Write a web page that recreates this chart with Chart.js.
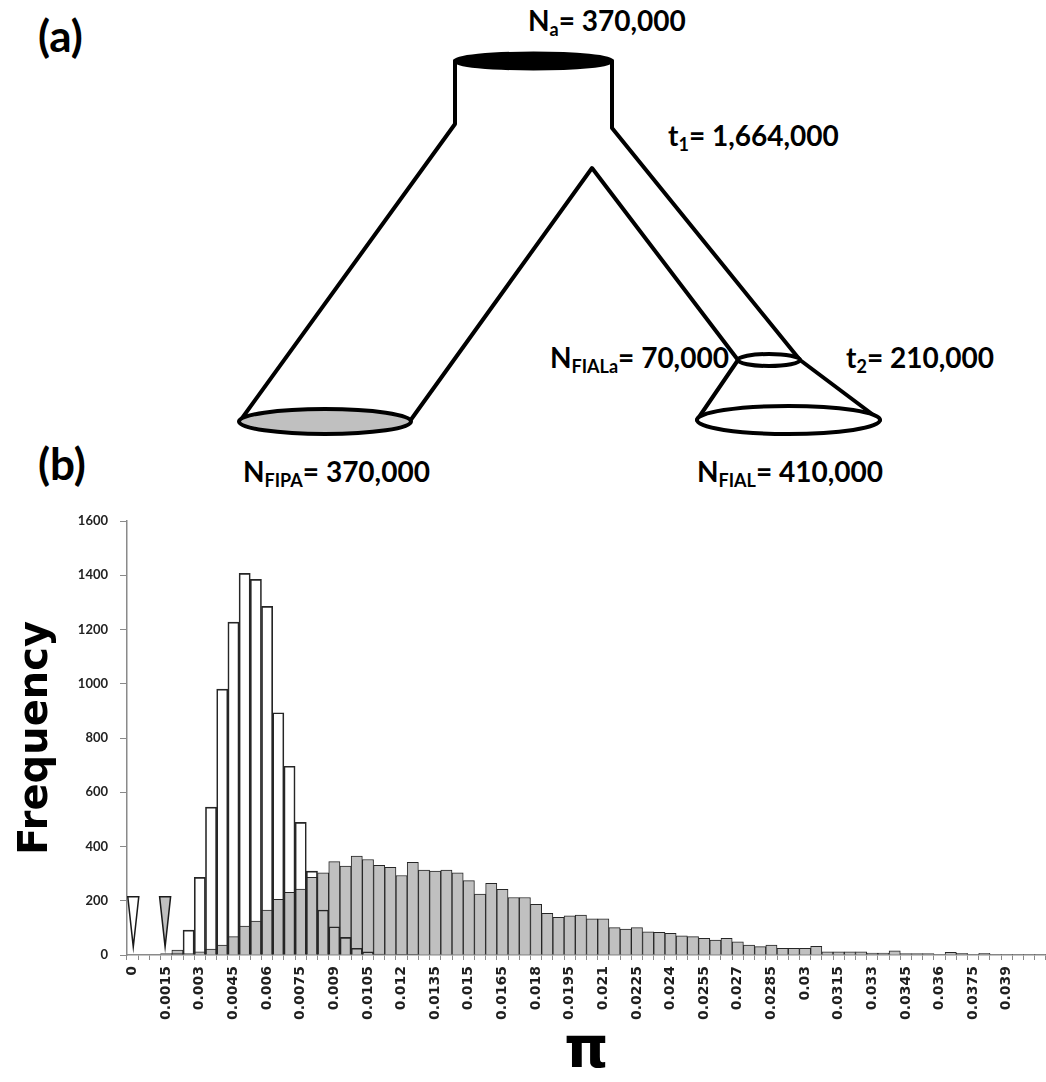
<!DOCTYPE html>
<html>
<head>
<meta charset="utf-8">
<script src="https://cdn.jsdelivr.net/npm/chart.js@4.4.1/dist/chart.umd.min.js"></script>
<style>
  html, body { margin: 0; padding: 0; background: #fff; }
  #wrap { position: relative; width: 1046px; height: 1082px; overflow: hidden; }
  #tree { position: absolute; left: 0; top: 0; }
  #hist { position: absolute; left: 0; top: 490px; width: 1046px; height: 592px; }
</style>
</head>
<body>
<div id="wrap">
  <!-- (a) population split model -->
  <svg id="tree" width="1046" height="490" viewBox="0 0 1046 490" xmlns="http://www.w3.org/2000/svg">
    <g fill="none" stroke="#000" stroke-width="4" stroke-linejoin="round" stroke-linecap="round">
      <path d="M455 61 L455 124 L240 421"/>
      <path d="M612 61 L612 128 L800 360"/>
      <path d="M410 421 L592 168 L738 360"/>
      <path d="M738 360 L697 420"/>
      <path d="M800 360 L880 420"/>
    </g>
    <ellipse cx="533.5" cy="61" rx="78.5" ry="7.5" fill="#000" stroke="#000" stroke-width="4"/>
    <ellipse cx="325" cy="421.5" rx="86" ry="12.5" fill="#c0c0c0" stroke="#000" stroke-width="4"/>
    <ellipse cx="769" cy="360" rx="31" ry="6" fill="#fff" stroke="#000" stroke-width="4"/>
    <ellipse cx="788.5" cy="420" rx="91.5" ry="14" fill="#fff" stroke="#000" stroke-width="4"/>
    <g font-family="Lato, 'Open Sans', sans-serif" font-weight="bold" fill="#000">
      <text x="38" y="52" font-size="44">(a)</text>
      <text x="38" y="480" font-size="44">(b)</text>
      <g font-size="28">
        <text x="528" y="31">N<tspan font-size="18" dy="5">a</tspan><tspan dy="-5">= 370,000</tspan></text>
        <text x="668" y="146">t<tspan font-size="18" dy="5">1</tspan><tspan dy="-5">= 1,664,000</tspan></text>
        <text x="550" y="368">N<tspan font-size="18" dy="5">FIALa</tspan><tspan dy="-5">= 70,000</tspan></text>
        <text x="846" y="368">t<tspan font-size="18" dy="5">2</tspan><tspan dy="-5">= 210,000</tspan></text>
        <text x="243" y="482">N<tspan font-size="18" dy="5">FIPA</tspan><tspan dy="-5">= 370,000</tspan></text>
        <text x="697" y="482">N<tspan font-size="18" dy="5">FIAL</tspan><tspan dy="-5">= 410,000</tspan></text>
      </g>
    </g>
  </svg>
  <!-- (b) distribution of simulated nucleotide diversity -->
  <div id="hist"><canvas id="piChart"></canvas></div>
</div>
<script>
// Lower edge of each pi bin
const binStarts = [0, 0.0005, 0.001, 0.0015, 0.002, 0.0025, 0.003, 0.0035, 0.004, 0.0045,
  0.005, 0.0055, 0.006, 0.0065, 0.007, 0.0075, 0.008, 0.0085, 0.009, 0.0095,
  0.01, 0.0105, 0.011, 0.0115, 0.012, 0.0125, 0.013, 0.0135, 0.014, 0.0145,
  0.015, 0.0155, 0.016, 0.0165, 0.017, 0.0175, 0.018, 0.0185, 0.019, 0.0195,
  0.02, 0.0205, 0.021, 0.0215, 0.022, 0.0225, 0.023, 0.0235, 0.024, 0.0245,
  0.025, 0.0255, 0.026, 0.0265, 0.027, 0.0275, 0.028, 0.0285, 0.029, 0.0295,
  0.03, 0.0305, 0.031, 0.0315, 0.032, 0.0325, 0.033, 0.0335, 0.034, 0.0345,
  0.035, 0.0355, 0.036, 0.0365, 0.037, 0.0375, 0.038, 0.0385, 0.039, 0.0395,
  0.04, 0.0405];

// Bins that carry a printed label on the pi axis
const tickLabels = ['0', '0.0015', '0.003', '0.0045', '0.006', '0.0075', '0.009', '0.0105',
  '0.012', '0.0135', '0.015', '0.0165', '0.018', '0.0195', '0.021', '0.0225', '0.024',
  '0.0255', '0.027', '0.0285', '0.03', '0.0315', '0.033', '0.0345', '0.036', '0.0375', '0.039'];

// FIAL (open bars)
const piFIAL = [0, 0, 0, 0, 5, 92, 286, 545, 980, 1227,
  1407, 1385, 1285, 893, 696, 489, 309, 166, 104, 65,
  25, 12, 3, 2, 1, 1, 0, 0, 0, 0,
  0, 0, 0, 0, 0, 0, 0, 0, 0, 0,
  0, 0, 0, 0, 0, 0, 0, 0, 0, 0,
  0, 0, 0, 0, 0, 0, 0, 0, 0, 0,
  0, 0, 0, 0, 0, 0, 0, 0, 0, 0,
  0, 0, 0, 0, 0, 0, 0, 0, 0, 0,
  0, 0];

// FIPA (grey bars)
const piFIPA = [0, 0, 0, 5, 18, 5, 12, 22, 37, 68,
  107, 125, 166, 205, 231, 243, 286, 303, 344, 328,
  365, 352, 331, 323, 293, 342, 313, 309, 313, 303,
  274, 225, 264, 242, 212, 212, 187, 154, 139, 144,
  147, 133, 133, 101, 96, 101, 85, 84, 80, 71,
  68, 61, 55, 61, 49, 37, 31, 37, 25, 25,
  25, 32, 12, 12, 12, 12, 7, 7, 15, 5,
  5, 5, 1, 10, 6, 1, 6, 1, 1, 1,
  1, 1];

// Observed pi of each population (arrowheads): FIAL, FIPA
const observedPi = [0.00003, 0.00145];
const observedFill = ['#ffffff', '#c0c0c0'];

const binWidth = binStarts[1] - binStarts[0];

// Narrow downward arrowheads marking the observed values
const observedMarkers = {
  id: 'observedMarkers',
  afterDatasetsDraw(chart) {
    const { ctx, scales: { x, y } } = chart;
    const base = y.getPixelForValue(215);
    const tip = y.getPixelForValue(30);
    observedPi.forEach((v, k) => {
      const cx = x.getPixelForValue(v / binWidth);
      ctx.save();
      ctx.beginPath();
      ctx.moveTo(cx - 5.5, base);
      ctx.lineTo(cx + 5.5, base);
      ctx.lineTo(cx, tip);
      ctx.closePath();
      ctx.fillStyle = observedFill[k];
      ctx.fill();
      ctx.lineWidth = 1.5;
      ctx.strokeStyle = '#1a1a1a';
      ctx.stroke();
      ctx.restore();
    });
  }
};

new Chart(document.getElementById('piChart'), {
  type: 'bar',
  data: {
    labels: binStarts.map(String),
    datasets: [
      {
        label: 'FIAL',
        data: piFIAL,
        backgroundColor: 'rgba(255,255,255,0)',
        borderColor: '#262626',
        borderWidth: 1,
        categoryPercentage: 1,
        barPercentage: 1,
        grouped: false
      },
      {
        label: 'FIPA',
        data: piFIPA,
        backgroundColor: '#c0c0c0',
        borderColor: '#262626',
        borderWidth: 1,
        categoryPercentage: 1,
        barPercentage: 1,
        grouped: false
      }
    ]
  },
  options: {
    responsive: true,
    maintainAspectRatio: false,
    animation: false,
    events: [],
    layout: { padding: { top: 31, left: 0, right: 0, bottom: 0 } },
    plugins: { legend: { display: false }, tooltip: { enabled: false } },
    scales: {
      x: {
        type: 'category',
        offset: true,
        grid: { display: true, drawOnChartArea: false, drawTicks: true, tickLength: 5, offset: true, color: '#8a8a8a', lineWidth: 1 },
        border: { display: true, color: '#8a8a8a', width: 1.5 },
        ticks: {
          autoSkip: false,
          minRotation: 90,
          maxRotation: 90,
          padding: 6,
          color: '#1f1f1f',
          font: { family: '"DejaVu Sans"', weight: 'bold', size: 14 },
          callback: (v, i) => {
            const s = String(binStarts[i]);
            return tickLabels.includes(s) ? s : '';
          }
        },
        title: {
          display: true,
          text: 'π',
          color: '#000',
          font: { family: '"DejaVu Sans"', weight: 'bold', size: 56, lineHeight: 1 },
          padding: { top: 0, bottom: 2 }
        },
        afterFit(s) { s.height = 127; s.paddingLeft = 0; s.paddingRight = 0; }
      },
      y: {
        min: 0,
        max: 1600,
        ticks: {
          stepSize: 200,
          padding: 12,
          color: '#222222',
          font: { family: 'Lato', weight: 'bold', size: 13 },
          callback: (v) => String(v)
        },
        grid: { drawOnChartArea: false, drawTicks: true, tickLength: 7, color: '#8a8a8a' },
        border: { display: true, color: '#8a8a8a', width: 1.5 },
        title: {
          display: true,
          text: 'Frequency',
          color: '#000',
          font: { family: '"DejaVu Sans"', weight: 'bold', size: 40, lineHeight: 1.2 },
          padding: { top: 13, bottom: 0 }
        },
        afterFit(s) { s.width = 127; }
      }
    }
  },
  plugins: [observedMarkers]
});
</script>
</body>
</html>
